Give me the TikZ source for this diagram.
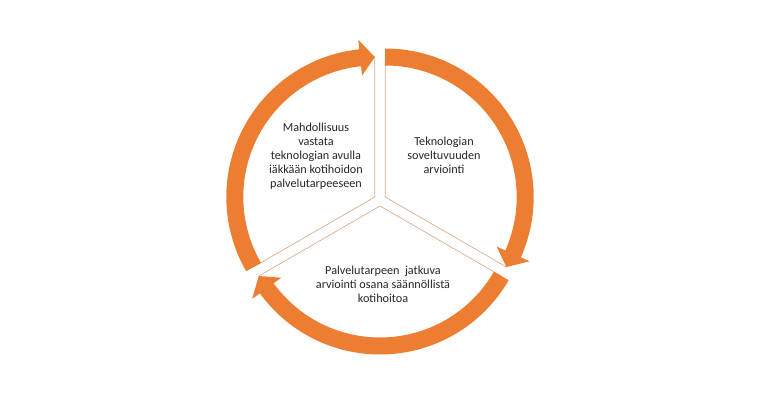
\documentclass[tikz,border=0pt]{standalone}
\usepackage{fontspec}
\setmainfont{Carlito}
\usepackage{xcolor}
\usepackage{tikz}

\definecolor{cycleorange}{HTML}{ED7D31}
\definecolor{edgetan}{HTML}{D9AD8C}

\begin{document}
\begin{tikzpicture}[
                x=1pt, y=1pt,
                band/.style={fill=cycleorange, draw=none},
                edge/.style={draw=edgetan, line width=0.7pt},
                cycletext/.style={align=center, text=black!85, font=\fontsize{12.2}{13.9}\selectfont}
            ]
                \useasboundingbox (0,0) rectangle (760,400);
                \coordinate (O) at (380,200);

                % Sectors: start angle / end angle / shift direction
                \foreach \a/\b/\m [evaluate=\b as \c using \b+6] in {90/-30/30, -30/-150/-90, 210/90/150} {
                    \begin{scope}[shift={(O)}, shift={(\m:6)}]
                        \draw[edge] (\a:140) -- (0,0) -- (\b:140);
                        \fill[band] (\a:148.5) arc[start angle=\a, end angle=\c, radius=148.5]
                            -- (\c:158) -- (\b:140) -- (\c:122) -- (\c:131.5)
                            arc[start angle=\c, end angle=\a, radius=131.5] -- cycle;
                    \end{scope}
                }

                % Texts
                \node[cycletext] (tech) at (444,245) {Teknologian\\soveltuvuuden\\arviointi};
                \node[cycletext] (need) at (383,116) {Palvelutarpeen~ jatkuva\\arviointi osana säännöllistä\\kotihoitoa};
                \node[cycletext] (chance) at (316,244) {Mahdollisuus\\vastata\\teknologian avulla\\iäkkään kotihoidon\\palvelutarpeeseen};
            \end{tikzpicture}
\end{document}
